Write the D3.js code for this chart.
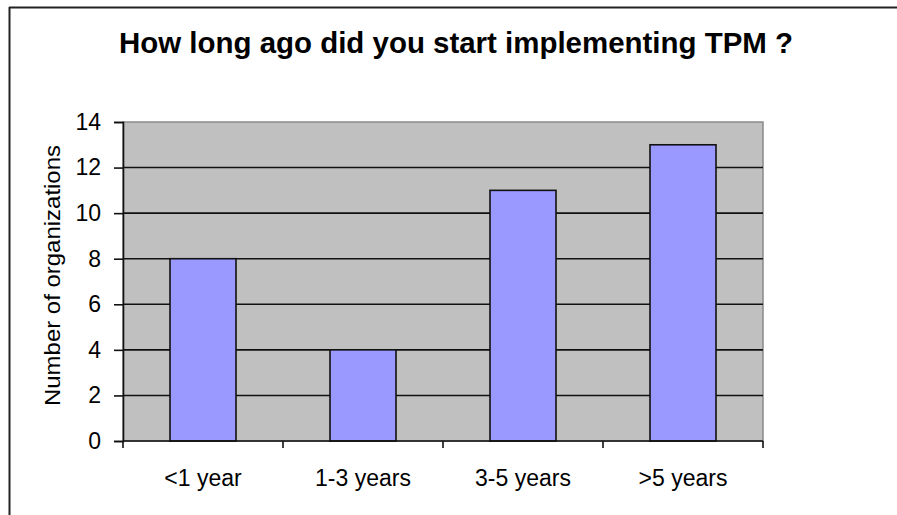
<!DOCTYPE html>
<html>
<head>
<meta charset="utf-8">
<script src="https://cdn.jsdelivr.net/npm/d3@7"></script>
<style>
  html, body { margin: 0; padding: 0; background: #fff; }
  svg { display: block; }
  text { font-family: "Liberation Sans", Arial, sans-serif; fill: #000; }
</style>
</head>
<body>
<svg id="chart" width="897" height="515"></svg>
<script>
// Survey answers: time since TPM implementation started
const categories = ["<1 year", "1-3 years", "3-5 years", ">5 years"];
const counts = [8, 4, 11, 13];
const yTicks = [0, 2, 4, 6, 8, 10, 12, 14];

const titleText = "How long ago did you start implementing TPM ?";
const yAxisTitle = "Number of organizations";

const svg = d3.select("#chart");
const W = 897, H = 515;
const plot = { left: 123, right: 763, top: 122, bottom: 441 };

// Chart frame (top and left edges)
svg.append("line").attr("x1", 9).attr("x2", W).attr("y1", 7.5).attr("y2", 7.5)
  .attr("stroke", "#222").attr("stroke-width", 2);
svg.append("line").attr("x1", 9.5).attr("x2", 9.5).attr("y1", 7).attr("y2", H)
  .attr("stroke", "#222").attr("stroke-width", 2);

const x = d3.scaleBand()
  .domain(categories)
  .range([plot.left, plot.right])
  .paddingInner(0.5875)
  .paddingOuter(0.5875 / 2);

const y = d3.scaleLinear()
  .domain([0, 14])
  .range([plot.bottom, plot.top]);

// Plot background
svg.append("rect")
  .attr("x", plot.left).attr("y", plot.top)
  .attr("width", plot.right - plot.left).attr("height", plot.bottom - plot.top)
  .attr("fill", "#C0C0C0")
  .attr("stroke", "#8a8a8a").attr("stroke-width", 1.5);

// Horizontal gridlines
svg.append("g")
  .selectAll("line")
  .data(yTicks.filter(d => d > 0 && d < 14))
  .join("line")
  .attr("x1", plot.left).attr("x2", plot.right)
  .attr("y1", d => y(d)).attr("y2", d => y(d))
  .attr("stroke", "#111").attr("stroke-width", 1.6);

// Bars
svg.append("g")
  .selectAll("rect")
  .data(categories.map((c, i) => ({ c, v: counts[i] })))
  .join("rect")
  .attr("x", d => x(d.c))
  .attr("y", d => y(d.v))
  .attr("width", x.bandwidth())
  .attr("height", d => y(0) - y(d.v))
  .attr("fill", "#9999FF")
  .attr("stroke", "#111").attr("stroke-width", 1.6);

// Y axis
const yAxis = d3.axisLeft(y).tickValues(yTicks).tickSize(9).tickPadding(13);
const gy = svg.append("g").attr("transform", `translate(${plot.left},0)`).call(yAxis);
gy.select(".domain").attr("stroke", "#111").attr("stroke-width", 1.6);
gy.selectAll(".tick line").attr("stroke", "#111").attr("stroke-width", 1.6);
gy.selectAll(".tick text")
  .attr("font-size", 23)
  .attr("font-family", "Liberation Sans, Arial, sans-serif")
  .attr("fill", "#000")
  .attr("dx", 0);

// X axis: ticks on category boundaries, labels centred on bars
const boundaries = categories.map(c => x(c) + x.bandwidth() / 2 - x.step() / 2)
  .concat([plot.right]);
svg.append("line")
  .attr("x1", plot.left).attr("x2", plot.right)
  .attr("y1", plot.bottom).attr("y2", plot.bottom)
  .attr("stroke", "#111").attr("stroke-width", 1.6);
svg.append("g")
  .selectAll("line")
  .data(boundaries)
  .join("line")
  .attr("x1", d => d).attr("x2", d => d)
  .attr("y1", plot.bottom).attr("y2", plot.bottom + 7)
  .attr("stroke", "#111").attr("stroke-width", 1.6);
svg.append("g")
  .selectAll("text")
  .data(categories)
  .join("text")
  .attr("x", d => x(d) + x.bandwidth() / 2)
  .attr("y", 486)
  .attr("text-anchor", "middle")
  .attr("font-size", 23)
  .text(d => d);

// Titles
svg.append("text")
  .attr("x", 456).attr("y", 53)
  .attr("text-anchor", "middle")
  .attr("font-size", 29)
  .attr("font-weight", "bold")
  .attr("textLength", 674)
  .attr("lengthAdjust", "spacingAndGlyphs")
  .text(titleText);

svg.append("text")
  .attr("transform", "translate(60,275.5) rotate(-90)")
  .attr("text-anchor", "middle")
  .attr("font-size", 22)
  .attr("textLength", 261)
  .attr("lengthAdjust", "spacingAndGlyphs")
  .text(yAxisTitle);
</script>
</body>
</html>
